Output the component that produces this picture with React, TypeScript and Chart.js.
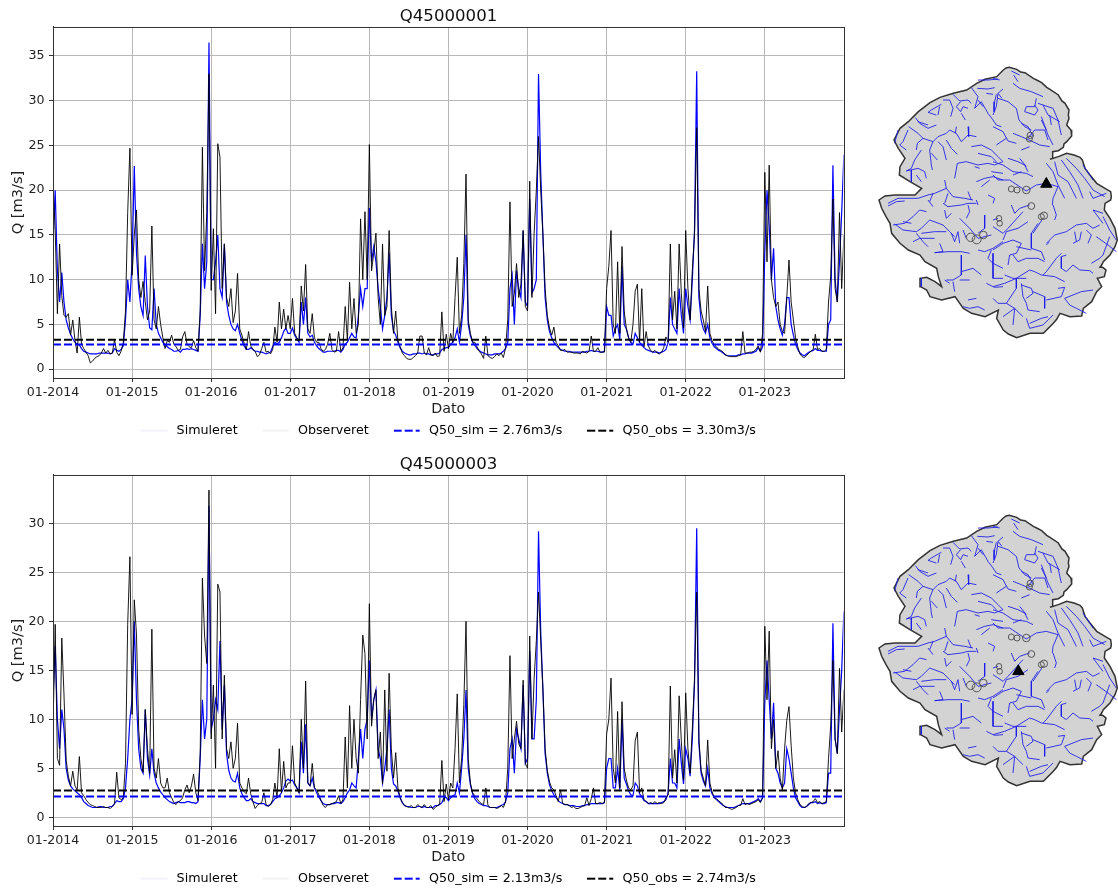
import React, { useEffect, useRef } from "react";
import { Chart, registerables } from "chart.js";

Chart.register(...registerables);
Chart.defaults.font.family = "'DejaVu Sans'";

const years = [2014, 2015, 2016, 2017, 2018, 2019, 2020, 2021, 2022, 2023];
const xTickValues = years;
const yTicksA = [0, 5, 10, 15, 20, 25, 30, 35];
const yTicksB = [0, 5, 10, 15, 20, 25, 30];

// Values read per year, about three per month. Each row is one year; the last list closes at end 2023.
const simA = [
  [14,20,11,7.5,10.8,7.5,5.5,4.6,3.9,3.4,3,2.8,2.7,2.3,2,1.9,1.8,1.7,1.7,1.7,1.7,1.8,1.8,1.8,1.8,1.8,1.7,1.8,2.3,2.1,2,2.2,2.6,5.5,10,7.5],
  [12,22.7,13,9,7,6,12.7,7,4.6,4.4,9,5,4,3.5,3,2.7,2.5,2.3,2.2,2,2,2.1,1.9,2.2,2.2,2.3,2.2,2.3,2.2,2.1,2,6,14,9,12,36.5],
  [10,10,12,15,9,8,14,7.5,6,5,4.5,4.3,5,4,3.2,2.6,2.2,2.2,2.4,2.2,2,2,1.9,1.9,1.8,1.7,1.8,1.9,2.5,3,2.8,3,3.5,4.2,4.6,4],
  [4,4.6,3.8,3.4,3,7.5,5,8,4,3.6,3.8,3,2.6,2.3,2.1,1.9,1.9,2,2,2,2,2.1,2.1,1.9,2.2,2.8,3,3.5,4,3.6,3.5,6,9,7,9,9],
  [18,12,13.7,12,9,7,4.5,6,8,13,6,4.3,3.8,3,2.4,2,1.8,1.7,1.6,1.6,1.7,1.7,1.8,1.8,1.7,1.8,1.7,1.7,1.6,1.6,1.7,1.7,1.8,2.2,2.3,2.4],
  [2.4,2.8,3,3.5,4.5,3,5,8,15,5,3.7,3,2.7,2.3,2.1,1.9,1.8,1.7,1.6,1.6,1.6,1.7,1.7,1.7,1.8,2,2.3,3,9,10.5,5,11,9,8,15.5,7.5],
  [7,19,8.5,9,10,33,22,15,8,5.5,4.2,3.5,3,2.7,2.4,2.2,2.1,2,2,2,1.9,1.9,1.9,1.9,1.9,1.9,1.9,2,2,2.1,2,2,2,1.9,1.9,2],
  [7,6,6,3.7,4.5,5,3.3,11.5,5,4.5,3.5,3,2.8,4,3.5,3,2.7,2.4,2.2,2.1,2,1.9,1.9,1.9,1.8,1.9,2,2.2,3,8,5,4.5,4,9,6,4],
  [9,7,5.5,10,15.5,33.3,8,5.5,4.5,4,5,3.5,2.9,2.5,2.3,2.1,2,1.8,1.6,1.5,1.5,1.5,1.5,1.5,1.6,1.6,1.7,1.7,1.8,1.8,1.8,1.9,2,2.4,2,2.5],
  [13,20,16,10,13.5,7,5.5,4.5,3.8,5,8,8,5,3.8,2.8,2.2,1.8,1.6,1.5,1.7,1.9,2,2.1,2.3,2.1,2.1,2,2,2,5,5.5,22.8,10,7.5,12,17.5],
];
const simAEnd = 24;
const obsA = [
  [20.8,15.5,6.2,14,8.2,6,5.8,6.2,3.8,5.5,3.2,1.8,5.8,2.8,2.3,1.9,1.5,0.7,0.9,1.2,1.4,1.5,1.8,2.3,1.8,2.1,1.7,1.8,3.3,1.9,1.5,2,3,6.5,17.5,24.7],
  [10.5,15,17.8,10,8,9.8,7.5,5.5,6.5,16,5.5,4.5,7,5,3.5,2.3,3.2,3,3.8,2.8,2.5,2.1,2.2,3.6,4.2,2.8,2.5,2.4,3.2,2.4,2,6.5,24.8,11,17.5,33],
  [8.8,15.7,6.2,25.2,23.7,9,14,8,7,9,5.2,6.5,10.7,4.5,3.8,2.9,2.2,4.2,2.6,2.2,2,1.4,1.6,2.3,3,1.9,2,1.7,2.2,4.7,3,7.5,4.5,6.7,4.5,6],
  [4.5,7.9,4,3.5,3.2,9.3,6.5,11.7,4.5,4,6.2,3.5,3,3,2.3,2,2.2,2.8,4,2.2,1.9,2,4.2,2,2.4,7,3.2,9.7,4.5,7.9,4,5,16.8,10,17.6,10],
  [25.1,11,13,15.2,8,5,14,6,7,15.5,7,4,6.5,3.2,2.5,1.8,1.5,1.2,1.1,1.1,1.3,1.5,1.8,3.7,3.7,1.8,1.6,2.4,1.6,1.5,1.8,1.4,1.5,6.4,2,3.9],
  [2.3,4,3,8,12.5,4,6,11.8,21.8,5.5,4,3,3,2.5,2,1.7,1.2,3.7,1.5,1.3,1.2,1.4,1.7,1.5,1.8,1.3,2.4,5.5,18.7,7,8.5,11.8,8,9.5,15.5,7],
  [6.5,21,8,15.2,20,26,20,15,9,6,4.6,3.8,4.7,3,2.6,2.1,2.1,2.2,1.9,1.9,1.9,1.8,1.8,1.8,1.7,2,1.9,1.8,2,3.7,2,2,2.4,1.9,1.9,1.9],
  [9,11.5,15.5,5,4,12,4,13.7,6.5,4.5,3.5,3,5,8.7,9.5,3,9,2.5,4.2,2.6,2.1,1.9,2.1,1.8,1.7,1.9,2.4,3.6,3,14,5.5,8.7,4.5,14,8.5,4.6],
  [15.5,9,5.5,11,15,27,9,6.5,5.5,4.2,9.3,4,3.2,2.7,2.5,2.2,2.1,1.9,1.6,1.5,1.4,1.4,1.4,1.4,1.5,1.6,4.2,1.8,1.8,1.9,1.9,2,2.2,2.6,1.9,4],
  [22,12,22.8,10,8,7,7.5,5,4.2,4,8,12.2,7.5,5.5,3.5,2.5,1.7,1.4,1.3,1.5,1.8,2,2.2,3.9,2.2,2.3,2,2,2.2,7.5,10.4,19,9,7.5,17.5,9],
];
const obsAEnd = 15;
const simB = [
  [12,17.5,10,7,11,9,5,3.8,3.2,2.9,2.7,2.5,2.3,2,1.6,1.4,1.2,1.1,1,1,1,1.1,1.1,1,1,1,1.1,1.1,1.4,1.7,1.6,1.6,1.9,3,6,10],
  [12,20,12,7,5,4.5,11,6,4.3,7,4.5,3.5,3,2.6,2.3,2,1.8,1.6,1.5,1.4,1.5,1.6,1.5,1.5,1.5,1.6,1.6,1.5,1.5,1.4,1.6,6,12,8,10,31.8],
  [9,10,12,11,18,9,13.5,6.5,4.8,4,3.7,3.6,4.5,3,2.4,2,1.7,1.7,1.9,1.6,1.5,1.4,1.4,1.4,1.4,1.2,1.2,1.3,1.6,1.9,2,2.2,2.5,3,3.7,3.9],
  [3.7,3.8,3.3,3,2.5,7.7,4.5,9.5,3.5,3.2,4,3,2.5,2.1,1.7,1.4,1.3,1.3,1.3,1.4,1.4,1.5,1.5,1.4,1.6,2,2.5,2.8,3.5,3.2,3,6,9,6,9,10],
  [16,10,12,13,7,6,3.5,5,7,11,5,3.4,3.2,2.7,2,1.5,1.2,1.1,1.1,1,1,1,1.1,1.1,1,1.1,1,1,1,1,1.2,1.2,1.3,1.5,2,2],
  [1.7,2,2.2,2.3,3.5,2.5,5,8,13,5,3.3,2.4,1.9,1.6,1.4,1.3,1.2,1.2,1.1,1,1,1,1,1.1,1.2,1.3,1.6,2.5,7,8,4.5,9,8,7,13.5,5.5],
  [6,17,8,8,12,29.2,19,13,6.5,4.5,3.3,2.7,2.3,2,1.7,1.5,1.4,1.3,1.3,1.2,1.2,1.2,1.1,1.1,1.1,1.2,1.2,1.3,1.3,1.4,1.4,1.4,1.4,1.4,1.4,1.5],
  [5,6,6,3,3,5,2.8,10,4,3.4,2.7,2.3,2.2,3.5,3.2,2.4,2.1,1.7,1.6,1.4,1.4,1.4,1.4,1.4,1.4,1.5,1.6,1.8,2.5,6,3.5,3.5,3,8,5.5,3.4],
  [7,6,4.2,8,13.7,29.5,7.5,4.5,3.7,3.2,5,3,2.4,2,1.8,1.6,1.4,1.2,1.1,1,1,1,1,1.1,1.2,1.3,1.4,1.4,1.4,1.4,1.5,1.6,1.7,1.9,1.6,2],
  [11.7,16,12,8,11.7,5,4.5,3.5,3,3.5,7,6,4.5,3,2,1.6,1.2,1,1,1.1,1.3,1.5,1.5,1.6,1.4,1.5,1.4,1.4,1.5,4.5,4.5,19.8,8,6.5,11,15],
];
const simBEnd = 21;
const obsB = [
  [9,19.7,6,5.3,18.3,12.5,5.8,4.2,3.2,4.7,3.2,2.8,6.2,2.5,2.2,1.8,1.5,1.3,1.2,1.1,1,1,1,1.1,1,1,0.9,1.1,1.4,4.6,2,1.8,2,5.5,19.7,26.6],
  [10.5,22.2,18.7,9,6,4.6,11,7,4.5,19.2,5,4,6,3.5,3,3,4,2.5,2,1.5,1.3,1.6,1.7,2,2.8,3.3,2.5,3.2,4.4,2.5,1.7,6.5,24.4,18.5,15.7,33.4],
  [8,13.5,5,23.8,23,8,14.5,7,6,7.7,5,6,9.6,3.5,3,2.6,2.4,4,2.4,1.6,0.9,1.2,1.4,1.5,2.5,1.3,1.1,1.3,1.8,3.5,2,7,2.5,5.7,3,3.5],
  [3.5,7.3,3.5,3,2.5,10,5,13.9,3.5,3.2,5.5,3,2.8,2.3,1.7,1.2,1,1.3,1.3,1.4,1.5,1.6,2.2,1.4,1.8,8.2,3,11.4,5,10,6,4.5,12,18.6,16.7,8],
  [21.8,9.3,12,13,6,8.7,3.4,13,4.7,14.7,7,4,6.6,3,2,1.5,1.2,1.1,1,1.2,1,1,1.3,1.1,1,1.3,1,1,1.2,0.8,1,1.2,1.3,5.8,1.6,3.4],
  [1.8,3.5,3,7,12.6,3.5,6,11.5,20,6,3.5,2.5,2.2,1.9,1.6,1.4,1.3,3,1.2,1,1,1,0.9,1,1.2,1,1.6,5,16.5,6,8,9.8,7.5,7,14,5.5],
  [5,18.5,8,14.2,18,23,18,13,7,4.8,3.6,3,2.8,2.2,1.6,2.8,1.4,1.3,1.3,1.2,1,1.1,0.9,0.9,1,1.1,1.2,2,1.2,1.9,3,1.4,1.4,1.5,1.4,1.5],
  [8.5,10,14.2,5,3.5,10.8,3,11.8,5,3.8,3,2.8,3.2,7.8,8.7,2.5,3,1.8,1.6,1.4,1.5,1.4,1.6,1.4,1.5,1.4,1.5,2,2.3,13.4,4,6.9,3.5,12.4,7.8,3.8],
  [12.7,7,4.5,9,14,23,8,4.8,4,3.2,7.9,3.5,2.6,2,1.9,1.7,1.5,1.3,1,1,0.9,0.8,0.9,1,1.2,1.2,1.9,1.3,1.4,1.3,1.4,1.5,1.6,1.8,1.5,2],
  [19.5,12,19,7,10,5,6.8,4,2.8,7,9.9,11.3,7.3,4,2.5,1.8,1.3,1.1,1,1.1,1.4,1.5,1.6,1.9,1.5,1.6,1.4,1.5,1.6,6,9.4,16,8,6.5,15.2,8.7],
];
const obsBEnd = 13;

const q50SimA = 2.76;
const q50ObsA = 3.3;
const q50SimB = 2.13;
const q50ObsB = 2.74;

// Catchment outline, rivers and lakes in map coordinates.
const outline = [400,30,408,24,418,22,440,28,452,36,465,38,490,55,500,60,515,68,530,82,540,88,565,105,575,122,585,130,597,150,595,165,597,175,590,195,603,210,605,228,590,245,582,252,580,262,565,272,548,275,548,295,540,298,565,290,590,280,612,285,630,292,637,300,645,325,660,345,680,370,705,385,722,395,724,410,722,420,705,430,703,450,720,475,735,505,742,540,735,560,720,585,700,605,695,615,690,622,698,622,708,630,703,650,682,655,695,680,680,695,665,725,640,745,635,768,600,770,570,760,560,778,550,790,520,820,480,820,440,833,415,822,400,810,380,775,385,750,345,770,305,760,280,745,255,710,215,720,180,710,170,690,152,680,150,655,170,652,195,665,215,680,205,650,200,625,165,605,150,585,115,570,90,550,65,520,60,490,48,470,35,445,27,420,45,408,75,405,105,405,135,405,155,385,120,365,88,345,90,320,105,295,85,265,72,240,90,205,115,185,145,155,180,128,210,112,250,100,290,90,320,70,345,58,380,50,400,30];

// River traces, one list per quarter of the map, each relative to that quarter's corner.
const riversNW = [
  [300,45,330,45,360,42],[298,70,330,72,350,68],[325,85,345,88],[280,68,300,95,290,130,310,110,330,145,345,165,355,180,370,185],[300,105,315,125],
  [355,88,350,110,348,140],[360,85,372,100],[225,88,245,108,270,105,280,115],[248,110,235,125,248,140,255,125,270,130],[250,145,262,165],
  [195,105,215,105,225,130,218,155],[190,118,160,135,150,142,175,150],[185,125,180,150],[112,158,125,175,150,190,175,180],[120,170,150,180],
  [92,185,120,205,135,220,165,230,180,215,205,205,215,195,235,205,250,230,270,210,295,215],[235,185,232,205],[270,185,272,215],[135,220,118,235,115,255],
  [165,230,155,255,160,300,163,315],[180,230,195,245,205,285],[205,225,220,250,238,268],[160,265,178,285],[90,195,75,230,65,240,85,255],[60,195,50,235],
  [130,255,110,285,100,310,85,318,120,310,140,320,145,340],[100,315,100,350],[115,330,130,350],[280,245,310,240,340,255,360,275,375,290],[300,265,340,275,355,290],
  [230,340,238,295,265,290,300,300,330,295,350,300,375,290],[290,305,305,310],[295,350,320,340,345,335,375,345],[310,365,335,345],[340,320,375,325],
  [200,345,205,370,170,385,150,390,120,400,60,400,30,415],[205,370,225,395,260,400,285,405],[270,380,280,405],[165,385,155,410],[330,390,350,400,345,415],[295,405,300,420],[210,385,200,415],
];
const riversNE = [
  [55,18,80,30],[60,55,80,70,115,80,150,95],[62,30,75,50],[0,40,20,45],[30,72,15,85,10,125,0,150],[15,100,45,110,70,130,78,165,95,185,115,195],
  [130,100,125,125,100,125,95,140,125,150,135,135,125,120],[135,115,180,130,195,165,205,210],[150,120,165,150,200,170],[145,155,165,210,180,240],[145,165,160,195],[170,150,175,180],
  [60,205,85,215,115,228,140,240,170,245],[105,220,125,195,155,195,165,225],[85,175,105,185,120,215],[0,185,30,200,45,228,70,235],[10,240,40,220],[85,255,110,245],
  [45,280,75,290,95,300,105,320],[80,280,100,305],[0,290,30,300,60,320,100,325,120,335],[0,330,15,345,50,345,100,378,130,360,160,355,195,365],[60,330,85,320],
  [160,295,180,320,195,360,215,400],[185,290,195,330,225,350,250,400],[205,285,230,320,255,360,270,400],[220,280,250,310,275,340,300,375,335,395],[290,380,300,400,340,385],[270,300,300,345],[195,365,180,400,178,420],
];
const riversSW = [
  [30,18,55,5,80,3],[45,75,80,70,105,50,125,30,145,35],[50,72,75,90,115,95,130,85,155,60,195,75,215,95,230,110],[75,65,100,70],[115,100,135,125,150,140],[130,100,170,95,205,95],
  [105,125,125,115,170,115],[185,130,195,155,170,158,210,155,250,155,275,160],[220,100,230,125,240,95,245,130],[195,10,210,20,250,15,270,10,295,10],[200,30,205,55,220,40],
  [270,15,275,35,265,55],[150,0,165,20],[250,165,250,225,225,240,205,240],[245,55,275,85,300,115,340,105],[255,90,265,115],[320,45,320,85,300,100],[300,150,320,155,345,145,375,125],
  [340,150,330,175,345,190,375,205],[250,215,285,205,310,225],[225,245,230,275],[200,240,215,250],[245,240,275,240],[325,250,350,262,375,260],[270,300,295,295],[255,320,275,325,300,320,320,330],
  [345,160,345,235,375,235],[130,235,130,260],
];
const riversSE = [
  [55,15,65,40,80,25,110,15],[0,80,30,100,45,85,90,35],[40,95,30,120],[105,65,75,85,40,95],[135,70,115,100,115,145,145,155,155,180],[150,55,120,100],[180,15,190,45,185,60],[0,60,15,55],
  [0,150,30,130,60,120,85,130,70,160,50,165,45,195],[60,165,75,185,100,175,135,175,155,185],[70,140,115,150],[160,130,185,105,220,95,250,75,280,70,300,85,320,75],[245,95,250,125],
  [265,95,260,120,240,130],[280,90,295,105,285,130],[170,125,160,135],[205,160,190,175,160,215,150,225],[220,165,205,170,205,205,220,215,240,195,260,210,290,212,300,220],[330,50,350,90,370,120],
  [330,70,300,30,330,40],[310,110,345,135,370,155],[295,190,320,175,330,165,350,110],[0,260,35,250,70,235,110,210,125,215,145,225,185,230,215,245],[35,225,60,235,100,235],[70,235,70,265,40,310,65,325],
  [85,250,90,290,100,310,105,330,140,335],[85,255,115,265,120,280,100,295],[120,275,155,290,155,325],[160,300,205,290,215,262],[195,265,215,262],[215,295,230,315,250,325,280,340],[215,295,265,275,300,270],
  [65,325,30,350],[65,325,60,375],[65,325,90,350],[100,355,110,385,150,375,180,345],[110,370,145,355,165,350],[0,295,15,310,40,310],
];
const lakeX = [424, 441, 469, 484, 514, 522, 387, 389, 302, 320, 340, 481, 478];
const lakeY = [387, 390, 390, 438, 470, 467, 475, 490, 532, 538, 525, 226, 237];
const lakeSize = [3, 3, 3.8, 3.4, 3, 3.6, 2.8, 2.8, 4.2, 4.5, 3.8, 3.2, 3];
const stationA = { x: 529, y: 372 };
const stationB = { x: 445, y: 490 };

const toPairs = (flat: number[], ox = 0, oy = 0) => {
  const out: { x: number; y: number }[] = [];
  for (let i = 0; i < flat.length; i += 2) out.push({ x: flat[i] + ox, y: flat[i + 1] + oy });
  return out;
};

const riverParts: [number[][], number, number][] = [
  [riversNW, 24, 15],
  [riversNE, 369, 15],
  [riversSW, 24, 420],
  [riversSE, 369, 420],
];

const toSeries = (rows: number[][], last: number) => {
  const pts: { x: number; y: number }[] = [];
  rows.forEach((row, r) => row.forEach((v, i) => pts.push({ x: years[r] + i / row.length, y: v })));
  pts.push({ x: years[years.length - 1] + 1, y: last });
  return pts;
};

const legendSymbol = (color: string, dash: number[], width: number) => {
  const c = document.createElement("canvas");
  c.width = 29;
  c.height = 4;
  const g = c.getContext("2d")!;
  g.strokeStyle = color;
  g.lineWidth = width;
  g.setLineDash(dash);
  g.beginPath();
  g.moveTo(0, 2);
  g.lineTo(26, 2);
  g.stroke();
  return c;
};

const framePlugin = {
  id: "frame",
  afterDraw(chart: any) {
    const { ctx, chartArea: a } = chart;
    ctx.save();
    ctx.strokeStyle = "#333";
    ctx.lineWidth = 1;
    ctx.strokeRect(Math.round(a.left) + 0.5, Math.round(a.top) + 0.5, Math.round(a.right - a.left), Math.round(a.bottom - a.top));
    ctx.restore();
  },
};

const softEdge = "blur(0.35px)";

function Hydrograph(props: { title: string; top: number; sim: number[][]; simEnd: number; obs: number[][]; obsEnd: number; qSim: number; qObs: number; yMin: number; yMax: number; yTicks: number[] }) {
  const ref = useRef<HTMLCanvasElement>(null);
  useEffect(() => {
    const dash = [8, 3];
    const first = years[0];
    const lastX = years[years.length - 1] + 0.995;
    const labels = [
      { text: "Simuleret", sym: legendSymbol("rgba(0,0,255,0.1)", [], 1) },
      { text: "Observeret", sym: legendSymbol("rgba(0,0,0,0.1)", [], 1) },
      { text: `Q50_sim = ${props.qSim.toFixed(2)}m3/s`, sym: legendSymbol("#0000ff", dash, 2) },
      { text: `Q50_obs = ${props.qObs.toFixed(2)}m3/s`, sym: legendSymbol("#000", dash, 2) },
    ];
    const chart = new Chart(ref.current!, {
      type: "line",
      data: {
        datasets: [
          { label: labels[0].text, data: toSeries(props.sim, props.simEnd), borderColor: "#0000ff", borderWidth: 1.2, pointRadius: 0, tension: 0, order: 4 },
          { label: labels[1].text, data: toSeries(props.obs, props.obsEnd), borderColor: "#000", borderWidth: 0.9, pointRadius: 0, tension: 0, order: 3 },
          { label: labels[2].text, data: [{ x: first, y: props.qSim }, { x: lastX + 1, y: props.qSim }], borderColor: "#0000ff", borderWidth: 2, borderDash: dash, pointRadius: 0, order: 2 },
          { label: labels[3].text, data: [{ x: first, y: props.qObs }, { x: lastX + 1, y: props.qObs }], borderColor: "#000", borderWidth: 2, borderDash: dash, pointRadius: 0, order: 1 },
        ],
      },
      options: {
        responsive: false,
        animation: false,
        layout: { padding: 0 },
        plugins: {
          title: { display: true, text: props.title, color: "#111", font: { size: 16.6, weight: "normal" }, padding: { top: 7, bottom: 0 } },
          tooltip: { enabled: false },
          legend: {
            position: "bottom",
            labels: {
              usePointStyle: true,
              pointStyleWidth: 29,
              padding: 25,
              color: "#222",
              font: { size: 12.7 },
              generateLabels: () =>
                labels.map((l, i) => ({ text: l.text, pointStyle: l.sym as any, fillStyle: "transparent", strokeStyle: "transparent", lineWidth: 0, hidden: false, datasetIndex: i })),
            },
          },
        },
        scales: {
          x: {
            type: "linear",
            min: first,
            max: lastX,
            afterFit: (s: any) => { s.height = 21.2; },
            afterBuildTicks: (s: any) => { s.ticks = xTickValues.map((value) => ({ value })); },
            grid: { color: "#b8b8b8", lineWidth: 1, tickLength: 4, tickColor: "#333" },
            border: { color: "#333", width: 1 },
            ticks: { color: "#222", font: { size: 12.6 }, padding: 3, maxRotation: 0, autoSkip: false, callback: (v: any) => `01-${v}` },
            title: { display: true, text: "Dato", color: "#222", font: { size: 14.3 }, padding: { top: 0, bottom: -18.7 } },
          },
          y: {
            min: props.yMin,
            max: props.yMax,
            afterFit: (s: any) => { s.width = 53; },
            afterBuildTicks: (s: any) => { s.ticks = props.yTicks.map((value) => ({ value })); },
            grid: { color: "#b8b8b8", lineWidth: 1, tickLength: 4, tickColor: "#333" },
            border: { color: "#333", width: 1 },
            ticks: { color: "#222", font: { size: 12.6 }, padding: 4.5, callback: (v: any) => `${v}` },
            title: { display: true, text: "Q [m3/s]", color: "#222", font: { size: 14.6 }, padding: { top: 9.5, bottom: 0 } },
          },
          spacer: {
            type: "linear",
            position: "right",
            afterFit: (s: any) => { s.width = 53.5; },
            grid: { display: false },
            border: { display: false },
            ticks: { display: false },
          },
        },
      },
      plugins: [framePlugin],
    } as any);
    return () => chart.destroy();
  }, []);
  return <canvas ref={ref} width={897} height={447} style={{ position: "absolute", left: 0, top: props.top, width: 897, height: 447, filter: softEdge }} />;
}

function CatchmentMap(props: { top: number; station: { x: number; y: number } }) {
  const ref = useRef<HTMLCanvasElement>(null);
  useEffect(() => {
    const line = { showLine: true, pointRadius: 0, tension: 0 };
    const riverSets = riverParts.flatMap(([paths, ox, oy]) =>
      paths.map((r) => ({ ...line, data: toPairs(r, ox, oy), borderColor: "rgba(25,25,235,0.85)", borderWidth: 1, order: 3 }))
    );
    const chart = new Chart(ref.current!, {
      type: "scatter",
      data: {
        datasets: [
          { ...line, data: [props.station], pointStyle: "triangle", pointRadius: 6.5, backgroundColor: "#000", borderColor: "#000", showLine: false, order: 1 },
          { ...line, data: lakeX.map((x, i) => ({ x, y: lakeY[i] })), pointRadius: lakeSize, pointStyle: "circle", backgroundColor: "transparent", borderColor: "#555", borderWidth: 1, showLine: false, order: 2 },
          ...riverSets,
          { ...line, data: toPairs(outline), borderColor: "#333", borderWidth: 1.5, backgroundColor: "#d3d3d3", fill: "shape", order: 4 },
        ],
      },
      options: {
        responsive: false,
        animation: false,
        layout: { padding: 0, autoPadding: false },
        plugins: { legend: { display: false }, title: { display: false }, tooltip: { enabled: false } },
        scales: {
          x: { type: "linear", display: false, min: 0, max: 744 },
          y: { type: "linear", display: false, min: 0, max: 855, reverse: true },
        },
      },
    } as any);
    return () => chart.destroy();
  }, []);
  return <canvas ref={ref} width={248} height={285} style={{ position: "absolute", left: 870, top: props.top, width: 248, height: 285, filter: softEdge }} />;
}

export default function App() {
  return (
    <div style={{ position: "fixed", inset: 0, background: "#fff", overflow: "hidden" }}>
      <Hydrograph title="Q45000001" top={0} sim={simA} simEnd={simAEnd} obs={obsA} obsEnd={obsAEnd} qSim={q50SimA} qObs={q50ObsA} yMin={-1} yMax={38.25} yTicks={yTicksA} />
      <Hydrograph title="Q45000003" top={448} sim={simB} simEnd={simBEnd} obs={obsB} obsEnd={obsBEnd} qSim={q50SimB} qObs={q50ObsB} yMin={-0.9} yMax={34.95} yTicks={yTicksB} />
      <CatchmentMap top={60} station={stationA} />
      <CatchmentMap top={508} station={stationB} />
    </div>
  );
}
